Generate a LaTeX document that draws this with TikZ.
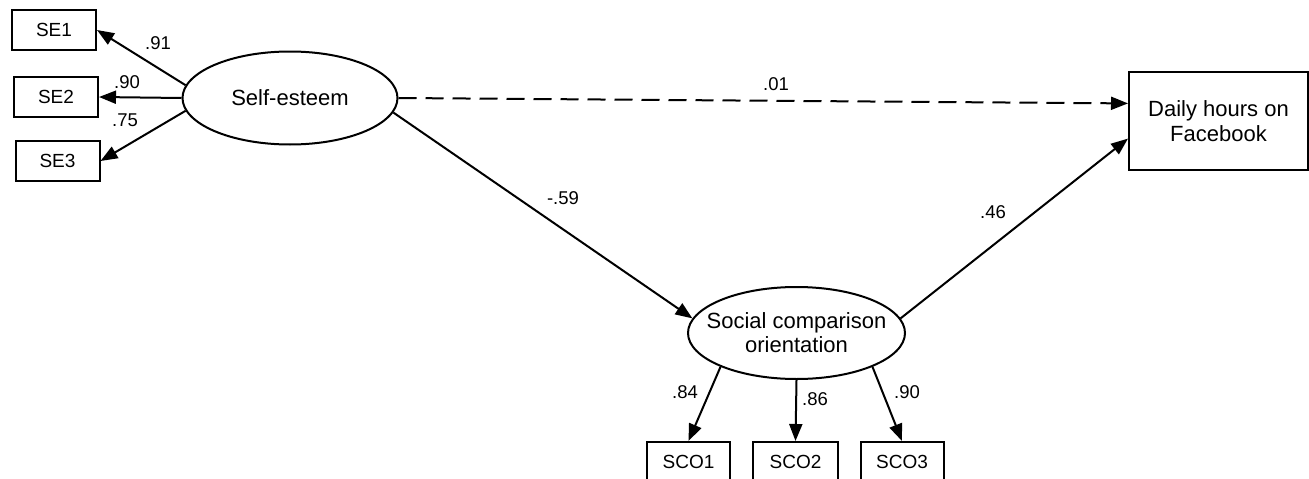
\documentclass[tikz,border=0pt]{standalone}
\usepackage{fontspec}
\setmainfont{Liberation Sans}
\usetikzlibrary{shapes.geometric,arrows.meta}
\begin{document}
\begin{tikzpicture}[x=1pt,y=-1pt,
  every node/.style={inner sep=0pt},
  obsbox/.style={draw,line width=2pt,minimum width=84pt,minimum height=40pt,font=\fontsize{19}{22}\selectfont},
  latent/.style={draw,ellipse,line width=2pt,minimum width=215pt,minimum height=93pt,align=center,font=\fontsize{22}{24}\selectfont},
  outbox/.style={draw,line width=2pt,minimum width=179pt,minimum height=98pt,align=center,font=\fontsize{22}{25}\selectfont},
  coef/.style={font=\fontsize{18.5}{21}\selectfont},
  path/.style={line width=2pt,-{Triangle[length=17pt,width=13pt]}},
  dpath/.style={path,dash pattern=on 18pt off 9pt}
]
\useasboundingbox (0,0) rectangle (1309,479);
\node[obsbox] (se1) at (54,30) {SE1};
\node[obsbox] (se2) at (56,97) {SE2};
\node[obsbox] (se3) at (57.5,161) {SE3};
\node[latent] (se) at (290,98) {Self-esteem};
\node[latent,inner xsep=-16pt,minimum width=217pt,minimum height=92pt] (sco) at (796.5,333) {Social comparison\\orientation};
\node[outbox] (fb) at (1218.5,121) {Daily hours on\\Facebook};
\node[obsbox,minimum width=83pt] (sco1) at (688.5,462) {SCO1};
\node[obsbox,minimum width=85pt] (sco2) at (795.5,462) {SCO2};
\node[obsbox,minimum width=83pt] (sco3) at (902,462) {SCO3};

\draw[path] (se.173) -- (se1.east);
\draw[path] (se.west) -- (se2.east);
\draw[path] (se.187) -- (se3.east);
\draw[dpath] (se.east) -- (fb.169);
\draw[path] (se.-8) -- (sco.172);
\draw[path] (sco.8) -- (fb.191);
\draw[path] (sco.204) -- (sco1.north);
\draw[path] (sco.south) -- (sco2.north);
\draw[path] (sco.336) -- (sco3.north);

\node[coef] (c1) at (158,43) {.91};
\node[coef] (c2) at (127,82) {.90};
\node[coef] (c3) at (125,120) {.75};
\node[coef] (c4) at (776,84) {.01};
\node[coef] (c5) at (563,198) {-.59};
\node[coef] (c6) at (993,212) {.46};
\node[coef] (c7) at (685,392) {.84};
\node[coef] (c8) at (815,399) {.86};
\node[coef] (c9) at (907,392) {.90};
\end{tikzpicture}
\end{document}
